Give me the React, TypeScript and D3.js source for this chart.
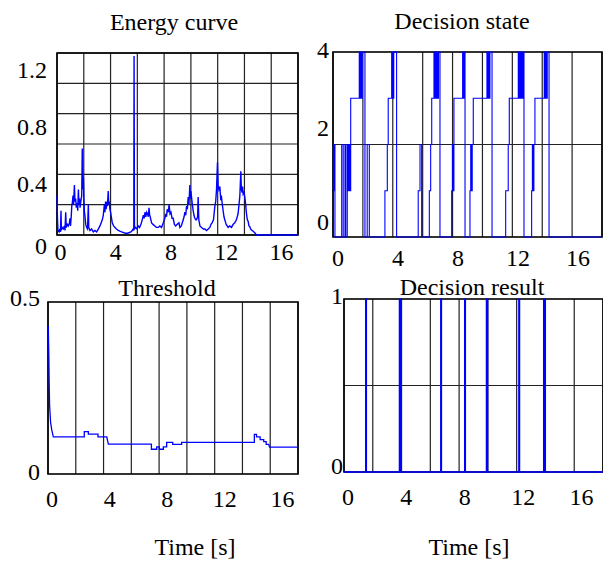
import React from 'react';
import * as d3 from 'd3';

// ---- data ----
const xTickValues = [0, 4, 8, 12, 16];

// energy curve: [time, energy]
const energyData: [number, number][] = [
  [-0.25, 0.26], [-0.22, 0.12], [-0.18, 0.03], [-0.1, 0.02], [-0.05, 0.04], [0.0, 0.02],
  [0.04, 0.16], [0.07, 0.03], [0.12, 0.05], [0.21, 0.04], [0.28, 0.06], [0.33, 0.03],
  [0.38, 0.15], [0.42, 0.05], [0.5, 0.07], [0.57, 0.06], [0.65, 0.08], [0.69, 0.11],
  [0.73, 0.06], [0.78, 0.12], [0.82, 0.19], [0.87, 0.22], [0.91, 0.26], [0.95, 0.2],
  [1.01, 0.33], [1.05, 0.22], [1.1, 0.24], [1.15, 0.18], [1.2, 0.21], [1.25, 0.16],
  [1.3, 0.3], [1.34, 0.2], [1.38, 0.24], [1.42, 0.18], [1.47, 0.22], [1.54, 0.26],
  [1.58, 0.57], [1.62, 0.3], [1.66, 0.38], [1.7, 0.23], [1.73, 0.16], [1.78, 0.12],
  [1.83, 0.07], [1.9, 0.05], [1.96, 0.04], [2.02, 0.2], [2.05, 0.05], [2.14, 0.03],
  [2.25, 0.04], [2.38, 0.02], [2.5, 0.03], [2.62, 0.02], [2.75, 0.04], [2.86, 0.06],
  [2.95, 0.08], [3.03, 0.1], [3.1, 0.13], [3.18, 0.2], [3.22, 0.15], [3.27, 0.22],
  [3.31, 0.17], [3.35, 0.22], [3.4, 0.19], [3.46, 0.29], [3.5, 0.2], [3.54, 0.22],
  [3.58, 0.17], [3.63, 0.15], [3.7, 0.11], [3.75, 0.08], [3.85, 0.06], [3.95, 0.05],
  [4.05, 0.04], [4.19, 0.03], [4.3, 0.025], [4.43, 0.02], [4.6, 0.015], [4.79, 0.01],
  [4.95, 0.015], [5.1, 0.02], [5.2, 0.03], [5.27, 0.04], [5.31, 0.03], [5.33, 1.18],
  [5.36, 0.04], [5.44, 0.05], [5.55, 0.04], [5.63, 0.06], [5.73, 0.05], [5.83, 0.07],
  [5.92, 0.1], [6.0, 0.13], [6.06, 0.11], [6.12, 0.15], [6.18, 0.12], [6.24, 0.15],
  [6.3, 0.14], [6.36, 0.12], [6.41, 0.18], [6.46, 0.13], [6.5, 0.12], [6.55, 0.1],
  [6.6, 0.08], [6.7, 0.07], [6.84, 0.06], [6.95, 0.05], [7.08, 0.05], [7.2, 0.06],
  [7.32, 0.05], [7.44, 0.08], [7.56, 0.11], [7.62, 0.14], [7.68, 0.12], [7.73, 0.17],
  [7.8, 0.15], [7.87, 0.2], [7.93, 0.14], [8.0, 0.15], [8.08, 0.11], [8.16, 0.11],
  [8.25, 0.07], [8.34, 0.06], [8.45, 0.07], [8.58, 0.08], [8.65, 0.05], [8.75, 0.06],
  [8.89, 0.1], [8.95, 0.12], [9.01, 0.15], [9.07, 0.13], [9.13, 0.19], [9.19, 0.17],
  [9.25, 0.25], [9.3, 0.2], [9.37, 0.33], [9.41, 0.24], [9.44, 0.29], [9.49, 0.25],
  [9.55, 0.2], [9.61, 0.16], [9.67, 0.13], [9.73, 0.11], [9.8, 0.1], [9.85, 0.1],
  [9.93, 0.12], [9.97, 0.25], [10.02, 0.1], [10.1, 0.06], [10.22, 0.05], [10.35, 0.04],
  [10.45, 0.04], [10.58, 0.03], [10.7, 0.04], [10.82, 0.05], [10.9, 0.07], [10.98, 0.08],
  [11.08, 0.1], [11.18, 0.19], [11.24, 0.22], [11.3, 0.3], [11.37, 0.48], [11.42, 0.32],
  [11.47, 0.3], [11.54, 0.32], [11.6, 0.24], [11.66, 0.25], [11.72, 0.2], [11.78, 0.16],
  [11.84, 0.12], [11.9, 0.1], [12.0, 0.07], [12.14, 0.05], [12.25, 0.06], [12.39, 0.05],
  [12.5, 0.07], [12.62, 0.08], [12.74, 0.1], [12.86, 0.14], [12.93, 0.2], [12.99, 0.26],
  [13.06, 0.42], [13.1, 0.3], [13.15, 0.28], [13.19, 0.32], [13.23, 0.27], [13.29, 0.28],
  [13.35, 0.25], [13.41, 0.2], [13.47, 0.14], [13.53, 0.1], [13.59, 0.09], [13.65, 0.06],
  [13.71, 0.055], [13.77, 0.04], [13.83, 0.033], [13.95, 0.025], [14.07, 0.015],
  [14.19, 0.0], [17.2, 0.0],
];

// decision state: step changes [time, state]
const stateData: [number, number][] = [
  [-0.33, 2], [-0.3, 1], [-0.27, 2], [-0.24, 1], [-0.22, 2], [-0.2, 0],
  [0.25, 2], [0.35, 0], [0.47, 2], [0.52, 0], [0.62, 2], [0.66, 1], [0.7, 2],
  [0.74, 1], [0.78, 2], [0.82, 1], [0.85, 3], [1.42, 4], [1.47, 3], [1.52, 4],
  [1.57, 3], [1.62, 4], [1.8, 0], [1.95, 2], [2.09, 0], [3.13, 1], [3.29, 2],
  [3.35, 3], [3.58, 4], [3.65, 3], [3.72, 4], [3.91, 0], [5.35, 1], [5.47, 2],
  [5.58, 0], [6.09, 1], [6.18, 2], [6.25, 3], [6.4, 4], [6.45, 3], [6.5, 4],
  [6.55, 3], [6.6, 4], [6.65, 3], [6.7, 4], [6.8, 0], [7.58, 1], [7.63, 2],
  [7.68, 1], [7.73, 3], [8.31, 4], [8.37, 3], [8.42, 4], [8.47, 0], [8.8, 1],
  [8.85, 2], [8.9, 1], [8.95, 2], [9.02, 3], [9.93, 4], [9.98, 3], [10.03, 4],
  [10.08, 3], [10.13, 4], [10.27, 0], [11.18, 1], [11.35, 2], [11.42, 3],
  [12.02, 4], [12.07, 3], [12.12, 4], [12.17, 3], [12.22, 4], [12.27, 3],
  [12.33, 4], [12.4, 0], [12.91, 1], [12.96, 2], [13.01, 1], [13.06, 2],
  [13.13, 3], [13.75, 4], [13.8, 3], [13.85, 4], [13.9, 3], [13.95, 4],
  [14.07, 0], [17.6, 0],
];

// adaptive threshold: [time, threshold]
const thresholdData: [number, number][] = [
  [-0.26, 0.43], [-0.24, 0.38], [-0.22, 0.34], [-0.2, 0.27], [-0.17, 0.2],
  [-0.1, 0.15], [-0.02, 0.128], [0.09, 0.108], [2.24, 0.108], [2.24, 0.123],
  [2.52, 0.123], [2.52, 0.116], [3.19, 0.116], [3.19, 0.108], [3.8, 0.108],
  [3.91, 0.087], [6.9, 0.087], [6.9, 0.072], [7.27, 0.072], [7.27, 0.079],
  [7.45, 0.079], [7.45, 0.072], [7.73, 0.072], [7.73, 0.079], [7.96, 0.079],
  [7.96, 0.092], [8.38, 0.092], [8.38, 0.086], [9.0, 0.086], [9.0, 0.092],
  [14.05, 0.092], [14.05, 0.115], [14.2, 0.115], [14.2, 0.108], [14.45, 0.108],
  [14.45, 0.1], [14.7, 0.1], [14.7, 0.094], [14.87, 0.094], [14.87, 0.086],
  [15.05, 0.086], [15.1, 0.078], [17.08, 0.078],
];

// decision result pulses
const pulseOn = [1.22, 3.53, 6.36, 8.0, 9.49, 11.71, 13.41];
const pulseOff = [1.26, 3.6, 6.4, 8.04, 9.56, 11.75, 13.48];

const resultData: [number, number][] = [[-0.27, 0]];
pulseOn.forEach((t, i) => {
  resultData.push([t, 1]);
  resultData.push([pulseOff[i], 0]);
});
resultData.push([17.47, 0]);

const FONT = '"Liberation Serif", "Times New Roman", serif';

type PanelProps = {
  title: string;
  titleX: number;
  titleY: number;
  box: [number, number, number, number]; // left, top, right, bottom
  xDomain: [number, number];
  yDomain: [number, number];
  yGrid: number[];
  yTicks: number[];
  yTickLabels: string[];
  yLabelRange: number[];
  yLabelX: number;
  xLabelY: number;
  data: [number, number][];
  step?: boolean;
  lineWidth: number;
  xTitle?: [number, number];
};

function Panel(p: PanelProps) {
  const [l, t, r, b] = p.box;
  const x = d3.scaleLinear().domain(p.xDomain).range([l, r]);
  const y = d3.scaleLinear().domain(p.yDomain).range([b, t]);
  const yLab = d3.scaleLinear().domain(p.yTicks).range(p.yLabelRange);
  const xGrid = d3.range(10).map(i => p.xDomain[0] + (i * (p.xDomain[1] - p.xDomain[0])) / 9);

  const line = d3.line<[number, number]>()
    .x(d => x(d[0]))
    .y(d => y(d[1]))
    .curve(p.step ? d3.curveStepAfter : d3.curveLinear);

  return (
    <g>
      <text x={p.titleX} y={p.titleY} textAnchor="middle" fontSize={24} fontFamily={FONT}>{p.title}</text>
      {xGrid.map((g, i) => (
        <line key={'xg' + i} x1={x(g)} x2={x(g)} y1={t} y2={b} stroke="#222" strokeWidth={1.2} />
      ))}
      {p.yGrid.map((g, i) => (
        <line key={'yg' + i} x1={l} x2={r} y1={y(g)} y2={y(g)} stroke="#222" strokeWidth={1.2} />
      ))}
      <rect x={l} y={t} width={r - l} height={b - t} fill="none" stroke="#000" strokeWidth={1.6} />
      <path d={line(p.data) || ''} fill="none" stroke="#0000ff" strokeWidth={p.lineWidth} />
      {xTickValues.map(v => (
        <text key={'xt' + v} x={x(v)} y={p.xLabelY} textAnchor="middle" dominantBaseline="central"
          fontSize={24} fontFamily={FONT}>{v}</text>
      ))}
      {p.yTicks.map((v, i) => (
        <text key={'yt' + v} x={p.yLabelX} y={yLab(v)} textAnchor="end" dominantBaseline="central"
          fontSize={24} fontFamily={FONT}>{p.yTickLabels[i]}</text>
      ))}
      {p.xTitle && (
        <text x={p.xTitle[0]} y={p.xTitle[1]} textAnchor="middle" fontSize={24} fontFamily={FONT}>Time [s]</text>
      )}
    </g>
  );
}

export default function App() {
  return (
    <svg width={603} height={561} style={{ position: 'absolute', left: 0, top: 0, background: '#fff' }}>
      <Panel
        title="Energy curve" titleX={174} titleY={30}
        box={[57, 53, 298, 235]} xDomain={[-0.25, 17.2]} yDomain={[0, 1.2]}
        yGrid={d3.range(0, 1.21, 0.2)}
        yTicks={[0, 0.4, 0.8, 1.2]} yTickLabels={['0', '0.4', '0.8', '1.2']}
        yLabelRange={[246, 184, 127, 70]} yLabelX={47} xLabelY={252}
        data={energyData} lineWidth={1.4}
      />
      <Panel
        title="Decision state" titleX={462} titleY={29}
        box={[333, 52, 602, 237]} xDomain={[-0.33, 17.6]} yDomain={[0, 4]}
        yGrid={[2]}
        yTicks={[0, 2, 4]} yTickLabels={['0', '2', '4']}
        yLabelRange={[222, 128, 50]} yLabelX={329} xLabelY={258}
        data={stateData} step lineWidth={1.1}
      />
      <Panel
        title="Threshold" titleX={167} titleY={296}
        box={[48, 302, 298, 474]} xDomain={[-0.28, 17.08]} yDomain={[0, 0.5]}
        yGrid={[]}
        yTicks={[0, 0.5]} yTickLabels={['0', '0.5']}
        yLabelRange={[472, 298]} yLabelX={40} xLabelY={499}
        data={thresholdData} lineWidth={1.3} xTitle={[195, 555]}
      />
      <Panel
        title="Decision result" titleX={472} titleY={295}
        box={[344, 299, 603, 472]} xDomain={[-0.27, 17.47]} yDomain={[0, 1]}
        yGrid={[0.5]}
        yTicks={[0, 1]} yTickLabels={['0', '1']}
        yLabelRange={[466, 296]} yLabelX={343} xLabelY={497}
        data={resultData} step lineWidth={1.5} xTitle={[469, 555]}
      />
    </svg>
  );
}
